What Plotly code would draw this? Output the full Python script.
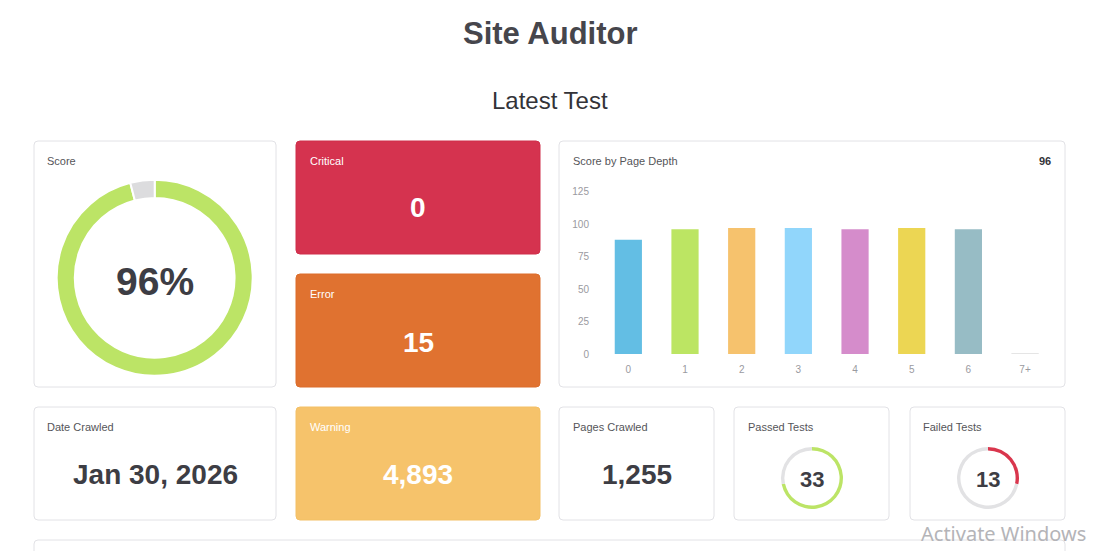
import plotly.graph_objects as go

W, H = 1100, 551

# ---------------- data ----------------
page_title = "Site Auditor"
page_subtitle = "Latest Test"
score_pct = 96
critical_count = 0
error_count = 15
warning_count = 4893
date_crawled = "Jan 30, 2026"
pages_crawled = 1255
passed_tests = 33
failed_tests = 13
depth_categories = ["0", "1", "2", "3", "4", "5", "6", "7+"]
depth_scores = [88, 96, 97, 97, 96, 97, 96, 0]
depth_colors = ["#63bee4", "#bce563", "#f6c26d", "#91d6fb",
                "#d58ccb", "#ecd653", "#97bcc5", "#dddddd"]
y_tick_values = [0, 25, 50, 75, 100, 125]

# ---------------- styles ----------------
FONT = "Liberation Sans, Arial, sans-serif"
DARK = "#3d3d44"
LABEL = "#555559"
BORDER = "#e2e2e6"
GREEN = "#bce466"
GRAY = "#e2e2e4"
RED_ARC = "#d9364d"
CRIT = "#d5334f"
ERR = "#e07230"
WARN = "#f6c36b"


def X(px):
    return px / W


def Y(py):
    return 1 - py / H


def rrect(x0, y0, x1, y1, r=4):
    return (f"M {X(x0 + r)},{Y(y0)} L {X(x1 - r)},{Y(y0)} "
            f"Q {X(x1)},{Y(y0)} {X(x1)},{Y(y0 + r)} L {X(x1)},{Y(y1 - r)} "
            f"Q {X(x1)},{Y(y1)} {X(x1 - r)},{Y(y1)} L {X(x0 + r)},{Y(y1)} "
            f"Q {X(x0)},{Y(y1)} {X(x0)},{Y(y1 - r)} L {X(x0)},{Y(y0 + r)} "
            f"Q {X(x0)},{Y(y0)} {X(x0 + r)},{Y(y0)} Z")


def card(x0, y0, x1, y1, fill="white", line=BORDER):
    return dict(type="path", xref="paper", yref="paper", path=rrect(x0, y0, x1, y1),
                fillcolor=fill, line=dict(color=line, width=1), layer="below")


def dom(cx, cy, r):
    return dict(x=[X(cx - r), X(cx + r)], y=[Y(cy + r), Y(cy - r)])


fig = go.Figure()

# Score donut
fig.add_trace(go.Pie(values=[score_pct, 100 - score_pct], marker=dict(colors=[GREEN, "#dcdcde"],
                     line=dict(color="white", width=2)),
                     hole=0.815, sort=False, direction="clockwise", rotation=0,
                     textinfo="none", hoverinfo="skip", automargin=False,
                     domain=dom(154.7, 277.8, 98)))

# Passed tests donut
fig.add_trace(go.Pie(values=[passed_tests, failed_tests], marker=dict(colors=[GREEN, GRAY],
                     line=dict(color="white", width=0)),
                     hole=0.89, sort=False, direction="clockwise", rotation=0,
                     textinfo="none", hoverinfo="skip", automargin=False,
                     domain=dom(812, 478, 31)))

# Failed tests donut
fig.add_trace(go.Pie(values=[failed_tests, passed_tests], marker=dict(colors=[RED_ARC, GRAY],
                     line=dict(color="white", width=0)),
                     hole=0.89, sort=False, direction="clockwise", rotation=0,
                     textinfo="none", hoverinfo="skip", automargin=False,
                     domain=dom(988, 478, 31)))

# Score by page depth bars
fig.add_trace(go.Bar(x=depth_categories, y=depth_scores, width=0.48,
                     marker=dict(color=depth_colors,
                                 line=dict(color=depth_colors,
                                           width=[0] * (len(depth_scores) - 1) + [1])),
                     hoverinfo="x+y"))

shapes = [
    card(34, 141, 276, 387),
    card(296, 141, 540, 254, CRIT, "#cf2f4a"),
    card(296, 274, 540, 387, ERR, "#dc6d2b"),
    card(559, 141, 1065, 387),
    card(34, 407, 276, 520),
    card(296, 407, 540, 520, WARN, "#f3c066"),
    card(559, 407, 714, 520),
    card(734, 407, 889, 520),
    card(910, 407, 1065, 520),
    card(34, 540, 1065, 580),
]


def ann(text, px, py, size, color, xanchor="center", bold=False, family=FONT):
    t = f"<b>{text}</b>" if bold else text
    return dict(text=t, x=X(px), y=Y(py), xref="paper", yref="paper",
                xanchor=xanchor, yanchor="middle", showarrow=False,
                font=dict(family=family, size=size, color=color))


annotations = [
    ann(page_title, 550, 34, 31, "#46464c", bold=True),
    ann(page_subtitle, 550, 100, 24, "#333338"),
    ann("Score", 45, 161, 11, LABEL, "left"),
    ann(f"{score_pct}%", 154.7, 281, 39, DARK, bold=True),
    ann("Critical", 307.5, 161, 11, "white", "left"),
    ann(f"{critical_count:,}", 418, 208, 28, "white", bold=True),
    ann("Error", 307.5, 294, 11, "white", "left"),
    ann(f"{error_count:,}", 418, 342, 28, "white", bold=True),
    ann("Score by Page Depth", 570.5, 161, 11, LABEL, "left"),
    ann(f"{score_pct}", 1053, 161, 11, "#333338", "right", bold=True),
    ann("Date Crawled", 45, 427, 11, LABEL, "left"),
    ann(date_crawled, 155, 475, 28, DARK, bold=True),
    ann("Warning", 307.5, 427, 11, "white", "left"),
    ann(f"{warning_count:,}", 418, 475, 28, "white", bold=True),
    ann("Pages Crawled", 570.5, 427, 11, LABEL, "left"),
    ann(f"{pages_crawled:,}", 637, 475, 28, DARK, bold=True),
    ann("Passed Tests", 745.5, 427, 11, LABEL, "left"),
    ann(f"{passed_tests}", 812, 479, 22, DARK, bold=True),
    ann("Failed Tests", 921, 427, 11, LABEL, "left"),
    ann(f"{failed_tests}", 988, 479, 22, DARK, bold=True),
    ann("Activate Windows", 919, 533, 20, "#b4b4b8", "left", family="Noto Sans, Open Sans, sans-serif"),
]

fig.update_layout(
    width=W, height=H, margin=dict(l=0, r=0, t=0, b=0, pad=0, autoexpand=False),
    paper_bgcolor="white", plot_bgcolor="rgba(0,0,0,0)",
    showlegend=False, shapes=shapes, annotations=annotations,
    font=dict(family=FONT),
    xaxis=dict(domain=[X(600), X(1053.4)], showgrid=False, zeroline=False, showline=False,
               automargin=False,
               ticks="outside", ticklen=6, tickcolor="rgba(0,0,0,0)",
               tickfont=dict(size=10, color="#9a9aa0"), fixedrange=True),
    yaxis=dict(domain=[Y(354), Y(191.7)], range=[0, 125], tickvals=y_tick_values,
               showgrid=False, zeroline=False, showline=False, automargin=False,
               ticks="outside", ticklen=8, tickcolor="rgba(0,0,0,0)",
               tickfont=dict(size=10, color="#9a9aa0"), fixedrange=True),
    bargap=0.52,
)

fig.write_html("out.html")
